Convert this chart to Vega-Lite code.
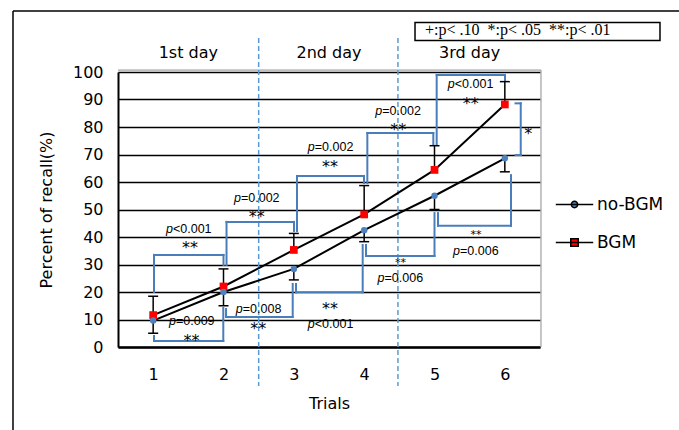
{
  "$schema": "https://vega.github.io/schema/vega-lite/v6.json",
  "width": 422,
  "height": 275,
  "autosize": "none",
  "padding": {"left": 118, "top": 72, "right": 139, "bottom": 83},
  "background": "white",
  "config": {
    "view": {"stroke": null},
    "font": "DejaVu Sans",
    "axis": {"labelColor": "black", "titleColor": "black", "labelFont": "DejaVu Sans", "titleFont": "DejaVu Sans", "labelFontSize": 16, "titleFontSize": 16, "titleFontWeight": "normal", "domainColor": "black", "ticks": false, "tickSize": 0, "labelOverlap": false}
  },
  "datasets": {
    "recall": [
      {"trial": 1, "series": "BGM", "recall": 11.6, "err_end": 18.5},
      {"trial": 2, "series": "BGM", "recall": 22.0, "err_end": 28.4},
      {"trial": 3, "series": "BGM", "recall": 35.3, "err_end": 41.3},
      {"trial": 4, "series": "BGM", "recall": 48.2, "err_end": 58.7},
      {"trial": 5, "series": "BGM", "recall": 64.4, "err_end": 73.2},
      {"trial": 6, "series": "BGM", "recall": 88.2, "err_end": 96.5},
      {"trial": 1, "series": "no-BGM", "recall": 9.6, "err_end": 5.0},
      {"trial": 2, "series": "no-BGM", "recall": 20.0, "err_end": 15.0},
      {"trial": 3, "series": "no-BGM", "recall": 28.4, "err_end": 24.4},
      {"trial": 4, "series": "no-BGM", "recall": 42.5, "err_end": 38.3},
      {"trial": 5, "series": "no-BGM", "recall": 55.0, "err_end": 50.0},
      {"trial": 6, "series": "no-BGM", "recall": 68.6, "err_end": 63.7}
    ],
    "frame": [
      {"x1": -0.993, "y1": 122.2, "x2": 8.53, "y2": 122.2},
      {"x1": -0.993, "y1": 122.2, "x2": -0.993, "y2": -30.2}
    ],
    "plotFrame": [
      {"x1": 0.5, "y1": 100.7, "x2": 6.514, "y2": 100.7},
      {"x1": 6.514, "y1": 100.7, "x2": 6.514, "y2": 0}
    ],
    "dividers": [
      {"x": 2.5, "y1": 112.4, "y2": -14.2},
      {"x": 4.48, "y1": 112.4, "y2": -14.2}
    ],
    "brackets": [
      {"x1": 1.012, "y1": 4.0, "x2": 1.012, "y2": 2.18},
      {"x1": 1.012, "y1": 2.18, "x2": 1.997, "y2": 2.18},
      {"x1": 1.997, "y1": 2.18, "x2": 1.997, "y2": 14.18},
      {"x1": 2.036, "y1": 13.8, "x2": 2.036, "y2": 10.9},
      {"x1": 2.036, "y1": 10.9, "x2": 2.984, "y2": 10.9},
      {"x1": 2.984, "y1": 10.9, "x2": 2.984, "y2": 22.9},
      {"x1": 3.031, "y1": 22.9, "x2": 3.031, "y2": 19.9},
      {"x1": 3.031, "y1": 19.9, "x2": 3.979, "y2": 19.9},
      {"x1": 3.979, "y1": 19.9, "x2": 3.979, "y2": 37.1},
      {"x1": 4.026, "y1": 37.1, "x2": 4.026, "y2": 33.1},
      {"x1": 4.026, "y1": 33.1, "x2": 5.0, "y2": 33.1},
      {"x1": 5.0, "y1": 33.1, "x2": 5.0, "y2": 48.7},
      {"x1": 5.05, "y1": 48.7, "x2": 5.05, "y2": 44.1},
      {"x1": 5.05, "y1": 44.1, "x2": 6.088, "y2": 44.1},
      {"x1": 6.088, "y1": 44.1, "x2": 6.088, "y2": 62.5},
      {"x1": 6.152, "y1": 88.6, "x2": 6.226, "y2": 88.6},
      {"x1": 6.226, "y1": 88.6, "x2": 6.226, "y2": 69.8},
      {"x1": 6.226, "y1": 69.8, "x2": 6.152, "y2": 69.8},
      {"x1": 1.012, "y1": 20.0, "x2": 1.012, "y2": 33.5},
      {"x1": 1.012, "y1": 33.5, "x2": 2.0, "y2": 33.5},
      {"x1": 2.0, "y1": 33.5, "x2": 2.0, "y2": 29.8},
      {"x1": 2.043, "y1": 29.8, "x2": 2.043, "y2": 45.5},
      {"x1": 2.043, "y1": 45.5, "x2": 3.002, "y2": 45.5},
      {"x1": 3.002, "y1": 45.5, "x2": 3.002, "y2": 42.2},
      {"x1": 3.045, "y1": 42.2, "x2": 3.045, "y2": 62.2},
      {"x1": 3.045, "y1": 62.2, "x2": 3.998, "y2": 62.2},
      {"x1": 3.998, "y1": 62.2, "x2": 3.998, "y2": 59.6},
      {"x1": 4.045, "y1": 59.6, "x2": 4.045, "y2": 77.8},
      {"x1": 4.045, "y1": 77.8, "x2": 4.983, "y2": 77.8},
      {"x1": 4.983, "y1": 77.8, "x2": 4.983, "y2": 73.8},
      {"x1": 5.031, "y1": 73.8, "x2": 5.031, "y2": 98.9},
      {"x1": 5.031, "y1": 98.9, "x2": 6.002, "y2": 98.9},
      {"x1": 6.002, "y1": 98.9, "x2": 6.002, "y2": 96.9}
    ],
    "ptexts": [
      {"x": 1.552, "y": 9.45, "lead": "p", "rest": "=0.009"},
      {"x": 2.502, "y": 13.7, "lead": "p", "rest": "=0.008"},
      {"x": 3.525, "y": 8.2, "lead": "p", "rest": "<0.001"},
      {"x": 4.517, "y": 25.1, "lead": "p", "rest": "=0.006"},
      {"x": 5.59, "y": 35.0, "lead": "p", "rest": "=0.006"},
      {"x": 1.509, "y": 42.9, "lead": "p", "rest": "<0.001"},
      {"x": 2.476, "y": 54.1, "lead": "p", "rest": "=0.002"},
      {"x": 3.525, "y": 72.6, "lead": "p", "rest": "=0.002"},
      {"x": 4.485, "y": 85.9, "lead": "p", "rest": "=0.002"},
      {"x": 5.516, "y": 95.6, "lead": "p", "rest": "<0.001"}
    ],
    "stars": [
      {"x": 1.545, "y": 3.64, "label": "**"},
      {"x": 2.495, "y": 8.0, "label": "**"},
      {"x": 3.514, "y": 15.4, "label": "**"},
      {"x": 1.524, "y": 37.5, "label": "**"},
      {"x": 2.472, "y": 48.6, "label": "**"},
      {"x": 3.514, "y": 67.0, "label": "**"},
      {"x": 4.485, "y": 80.4, "label": "**"},
      {"x": 5.515, "y": 89.8, "label": "**"},
      {"x": 6.334, "y": 78.9, "label": "*"}
    ],
    "smallStars": [
      {"x": 4.517, "y": 31.8, "label": "**"},
      {"x": 5.59, "y": 41.9, "label": "**"}
    ],
    "days": [
      {"x": 1.5, "y": 106.9, "label": "1st day"},
      {"x": 3.5, "y": 106.9, "label": "2nd day"},
      {"x": 5.5, "y": 106.9, "label": "3rd day"}
    ],
    "note": [
      {"x1": 4.723, "x2": 8.206, "y1": 118.0, "y2": 111.45, "tx": 4.865, "ty": 113.3, "label": "+:p< .10\u00a0\u00a0*:p< .05\u00a0\u00a0**:p< .01"}
    ]
  },
  "layer": [
    {
      "data": {"name": "frame"},
      "mark": {"type": "rule", "color": "black", "strokeWidth": 1.5},
      "encoding": {
        "x": {"field": "x1", "type": "quantitative", "scale": {"domain": [0.5, 6.5], "nice": false, "zero": false},
              "axis": {"title": "Trials", "values": [1, 2, 3, 4, 5, 6], "tickCount": 6, "format": "d", "grid": false, "labelPadding": 19, "titlePadding": 13, "domainWidth": 2.5, "labelFlush": false}},
        "x2": {"field": "x2"},
        "y": {"field": "y1", "type": "quantitative", "scale": {"domain": [0, 100], "nice": false, "zero": false},
              "axis": {"title": "Percent of recall(%)", "values": [0, 10, 20, 30, 40, 50, 60, 70, 80, 90, 100], "tickCount": 11, "grid": true, "gridColor": "black", "gridWidth": 1.5, "gridOpacity": 1, "labelPadding": 15, "titlePadding": 18, "domainWidth": 2, "labelFlush": false}},
        "y2": {"field": "y2"}
      }
    },
    {
      "data": {"name": "plotFrame"},
      "mark": {"type": "rule", "color": "#8c8c8c", "strokeWidth": 1},
      "encoding": {
        "x": {"field": "x1", "type": "quantitative", "scale": {"domain": [0.5, 6.5], "nice": false, "zero": false}},
        "x2": {"field": "x2"},
        "y": {"field": "y1", "type": "quantitative", "scale": {"domain": [0, 100], "nice": false, "zero": false}},
        "y2": {"field": "y2"}
      }
    },
    {
      "data": {"name": "dividers"},
      "mark": {"type": "rule", "color": "#5b9bd5", "strokeWidth": 1.5, "strokeDash": [5, 3]},
      "encoding": {
        "x": {"field": "x", "type": "quantitative", "scale": {"domain": [0.5, 6.5], "nice": false, "zero": false}},
        "y": {"field": "y1", "type": "quantitative", "scale": {"domain": [0, 100], "nice": false, "zero": false}},
        "y2": {"field": "y2"}
      }
    },
    {
      "data": {"name": "brackets"},
      "mark": {"type": "rule", "color": "#4a7ebb", "strokeWidth": 2, "strokeCap": "square"},
      "encoding": {
        "x": {"field": "x1", "type": "quantitative", "scale": {"domain": [0.5, 6.5], "nice": false, "zero": false}},
        "x2": {"field": "x2"},
        "y": {"field": "y1", "type": "quantitative", "scale": {"domain": [0, 100], "nice": false, "zero": false}},
        "y2": {"field": "y2"}
      }
    },
    {
      "data": {"name": "note"},
      "mark": {"type": "rect", "fill": "white", "stroke": "black", "strokeWidth": 1.5},
      "encoding": {
        "x": {"field": "x1", "type": "quantitative", "scale": {"domain": [0.5, 6.5], "nice": false, "zero": false}},
        "x2": {"field": "x2"},
        "y": {"field": "y1", "type": "quantitative", "scale": {"domain": [0, 100], "nice": false, "zero": false}},
        "y2": {"field": "y2"}
      }
    },
    {
      "data": {"name": "note"},
      "mark": {"type": "text", "font": "Liberation Serif", "fontSize": 16, "align": "left", "baseline": "alphabetic", "color": "black"},
      "encoding": {
        "x": {"field": "tx", "type": "quantitative", "scale": {"domain": [0.5, 6.5], "nice": false, "zero": false}},
        "y": {"field": "ty", "type": "quantitative", "scale": {"domain": [0, 100], "nice": false, "zero": false}},
        "text": {"field": "label"}
      }
    },
    {
      "data": {"name": "recall"},
      "mark": {"type": "rule", "color": "black", "strokeWidth": 1.5},
      "encoding": {
        "x": {"field": "trial", "type": "quantitative", "scale": {"domain": [0.5, 6.5], "nice": false, "zero": false}},
        "y": {"field": "recall", "type": "quantitative", "scale": {"domain": [0, 100], "nice": false, "zero": false}},
        "y2": {"field": "err_end"}
      }
    },
    {
      "data": {"name": "recall"},
      "mark": {"type": "tick", "orient": "horizontal", "color": "black", "size": 10, "thickness": 1.5, "opacity": 1},
      "encoding": {
        "x": {"field": "trial", "type": "quantitative", "scale": {"domain": [0.5, 6.5], "nice": false, "zero": false}},
        "y": {"field": "err_end", "type": "quantitative", "scale": {"domain": [0, 100], "nice": false, "zero": false}}
      }
    },
    {
      "data": {"name": "recall"},
      "mark": {"type": "line", "color": "black", "strokeWidth": 2},
      "encoding": {
        "x": {"field": "trial", "type": "quantitative", "scale": {"domain": [0.5, 6.5], "nice": false, "zero": false}},
        "y": {"field": "recall", "type": "quantitative", "scale": {"domain": [0, 100], "nice": false, "zero": false}},
        "detail": {"field": "series", "type": "nominal"}
      }
    },
    {
      "data": {"name": "recall"},
      "mark": {"type": "point", "filled": true, "opacity": 1},
      "encoding": {
        "x": {"field": "trial", "type": "quantitative", "scale": {"domain": [0.5, 6.5], "nice": false, "zero": false}},
        "y": {"field": "recall", "type": "quantitative", "scale": {"domain": [0, 100], "nice": false, "zero": false}},
        "color": {
          "field": "series", "type": "nominal",
          "scale": {"domain": ["no-BGM", "BGM"], "range": ["#4f81bd", "#ff0000"]},
          "legend": {
            "title": null, "orient": "none", "legendX": 437, "legendY": 113,
            "symbolSize": 1400, "symbolStrokeWidth": 1.5, "symbolStrokeColor": "black",
            "symbolType": {"expr": "datum.value === 'BGM' ? 'M-1,0H1M-0.2,-0.2H0.2V0.2H-0.2Z' : 'M-1,0H1M0.17,0A0.17,0.17,0,1,1,-0.17,0A0.17,0.17,0,1,1,0.17,0Z'"},
            "labelFont": "DejaVu Sans", "labelFontSize": 17, "labelColor": "black", "labelOffset": 3, "rowPadding": 10
          }
        },
        "shape": {"condition": {"test": "datum.series === 'BGM'", "value": "square"}, "value": "circle"},
        "size": {"condition": {"test": "datum.series === 'BGM'", "value": 60}, "value": 42}
      }
    },
    {
      "data": {"name": "ptexts"},
      "mark": {"type": "text", "font": "Liberation Sans", "fontSize": 12.5, "fontStyle": "italic", "align": "right", "baseline": "middle", "dx": -16, "color": "black"},
      "encoding": {
        "x": {"field": "x", "type": "quantitative", "scale": {"domain": [0.5, 6.5], "nice": false, "zero": false}},
        "y": {"field": "y", "type": "quantitative", "scale": {"domain": [0, 100], "nice": false, "zero": false}},
        "text": {"field": "lead"}
      }
    },
    {
      "data": {"name": "ptexts"},
      "mark": {"type": "text", "font": "Liberation Sans", "fontSize": 12.5, "align": "left", "baseline": "middle", "dx": -16, "color": "black"},
      "encoding": {
        "x": {"field": "x", "type": "quantitative", "scale": {"domain": [0.5, 6.5], "nice": false, "zero": false}},
        "y": {"field": "y", "type": "quantitative", "scale": {"domain": [0, 100], "nice": false, "zero": false}},
        "text": {"field": "rest"}
      }
    },
    {
      "data": {"name": "stars"},
      "mark": {"type": "text", "font": "DejaVu Sans", "fontSize": 16, "align": "center", "baseline": "middle", "dy": 4, "color": "black"},
      "encoding": {
        "x": {"field": "x", "type": "quantitative", "scale": {"domain": [0.5, 6.5], "nice": false, "zero": false}},
        "y": {"field": "y", "type": "quantitative", "scale": {"domain": [0, 100], "nice": false, "zero": false}},
        "text": {"field": "label"}
      }
    },
    {
      "data": {"name": "smallStars"},
      "mark": {"type": "text", "font": "DejaVu Sans", "fontSize": 11, "align": "center", "baseline": "middle", "dy": 3, "color": "black"},
      "encoding": {
        "x": {"field": "x", "type": "quantitative", "scale": {"domain": [0.5, 6.5], "nice": false, "zero": false}},
        "y": {"field": "y", "type": "quantitative", "scale": {"domain": [0, 100], "nice": false, "zero": false}},
        "text": {"field": "label"}
      }
    },
    {
      "data": {"name": "days"},
      "mark": {"type": "text", "font": "DejaVu Sans", "fontSize": 16, "align": "center", "baseline": "middle", "color": "black"},
      "encoding": {
        "x": {"field": "x", "type": "quantitative", "scale": {"domain": [0.5, 6.5], "nice": false, "zero": false}},
        "y": {"field": "y", "type": "quantitative", "scale": {"domain": [0, 100], "nice": false, "zero": false}},
        "text": {"field": "label"}
      }
    }
  ]
}
